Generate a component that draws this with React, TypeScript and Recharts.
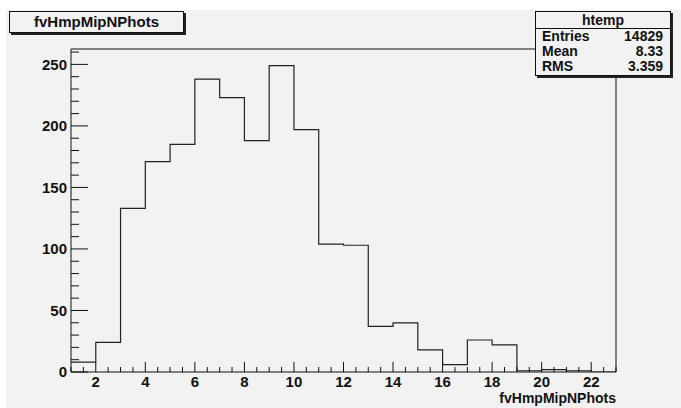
import React from 'react';
import { ComposedChart, Line, XAxis, YAxis, ReferenceArea } from 'recharts';

// bin contents, one per unit bin starting at binLow
const binLow = 1;
const binCounts = [8, 24, 133, 171, 185, 238, 223, 188, 249, 197, 104, 103, 37, 40, 18, 6, 26, 22, 1, 2, 1, 0];

const xMajor = [2, 4, 6, 8, 10, 12, 14, 16, 18, 20, 22];
const yMajor = [0, 50, 100, 150, 200, 250];
const xDomain = [1, 23];
const yDomain = [0, 262.5];

const statsLabels = ['Entries', 'Mean', 'RMS'];
const statsValues = ['14829', '8.33', '3.359'];

const FONT = '"Liberation Sans", Arial, Helvetica, sans-serif';

// step line needs one point per bin edge; last edge repeats the last value
const histData = [
  ...binCounts.map((c, i) => ({ x: binLow + i, y: c })),
  { x: binLow + binCounts.length, y: binCounts[binCounts.length - 1] },
];

const xTicks: number[] = [];
for (let v = xDomain[0]; v <= xDomain[1]; v += 0.5) xTicks.push(v);
const yTicks: number[] = [];
for (let v = 0; v <= 260; v += 10) yTicks.push(v);

function XTick(props: any) {
  const { x, y, payload } = props;
  const v = payload.value as number;
  const major = xMajor.includes(v);
  return (
    <g>
      <line x1={x} y1={y} x2={x} y2={y - (major ? 10 : 5)} stroke="#111" strokeWidth={1} />
      {major && (
        <text x={x} y={y + 15} textAnchor="middle" fontFamily={FONT} fontWeight="bold" fontSize={15} fill="#111">
          {v}
        </text>
      )}
    </g>
  );
}

function YTick(props: any) {
  const { x, y, payload } = props;
  const v = payload.value as number;
  const major = yMajor.includes(v);
  return (
    <g>
      <line x1={x} y1={y} x2={x + (major ? 17 : 8)} y2={y} stroke="#111" strokeWidth={1} />
      {major && (
        <text x={x - 4} y={y} dy="0.36em" textAnchor="end" fontFamily={FONT} fontWeight="bold" fontSize={15} fill="#111">
          {v}
        </text>
      )}
    </g>
  );
}

export default function App() {
  return (
    <div style={{ position: 'absolute', left: 0, top: 0, width: 681, height: 408, background: '#fff', fontFamily: FONT }}>
      <div style={{ position: 'absolute', left: 6, top: 10, width: 675, height: 398, background: '#f2f2f2' }} />
      <div style={{ position: 'absolute', left: 0, top: 0 }}>
        <ComposedChart width={681} height={408} data={histData} margin={{ top: 49, right: 65, bottom: 6, left: 11 }}>
          <XAxis
            dataKey="x"
            type="number"
            domain={xDomain}
            ticks={xTicks}
            interval={0}
            allowDataOverflow
            axisLine={false}
            tickLine={false}
            tickSize={0}
            tickMargin={0}
            height={30}
            tick={<XTick />}
          />
          <YAxis
            type="number"
            domain={yDomain}
            ticks={yTicks}
            interval={0}
            allowDataOverflow
            axisLine={false}
            tickLine={false}
            tickSize={0}
            tickMargin={0}
            width={60}
            tick={<YTick />}
          />
          <ReferenceArea x1={xDomain[0]} x2={xDomain[1]} y1={yDomain[0]} y2={yDomain[1]} fill="none" stroke="#111" strokeWidth={1} ifOverflow="visible" />
          <Line dataKey="y" type="stepAfter" stroke="#222" strokeWidth={1.2} dot={false} isAnimationActive={false} />
        </ComposedChart>
      </div>

      {/* x axis title */}
      <div style={{ position: 'absolute', right: 681 - 616, top: 391, fontSize: 14, lineHeight: '14px', fontWeight: 'bold', color: '#111', whiteSpace: 'nowrap' }}>
        fvHmpMipNPhots
      </div>

      {/* title box */}
      <div
        style={{
          position: 'absolute', left: 9, top: 11, width: 173, height: 20,
          border: '1px solid #111', boxShadow: '2px 2px 0 #222', background: '#f2f2f2',
          fontSize: 15, fontWeight: 'bold', color: '#111', textAlign: 'center', lineHeight: '20px',
        }}
      >
        fvHmpMipNPhots
      </div>

      {/* stats box */}
      <div
        style={{
          position: 'absolute', left: 535, top: 11, width: 134, height: 63,
          border: '1px solid #111', boxShadow: '2px 2px 0 #222', background: '#f2f2f2',
          fontSize: 14, fontWeight: 'bold', color: '#111',
        }}
      >
        <div style={{ height: 16, lineHeight: '16px', textAlign: 'center', borderBottom: '1px solid #111' }}>htemp</div>
        {statsLabels.map((l, i) => (
          <div key={l} style={{ display: 'flex', justifyContent: 'space-between', height: 15, lineHeight: '15px', padding: '0 7px 0 6px' }}>
            <span>{l}</span>
            <span>{statsValues[i]}</span>
          </div>
        ))}
      </div>
    </div>
  );
}
